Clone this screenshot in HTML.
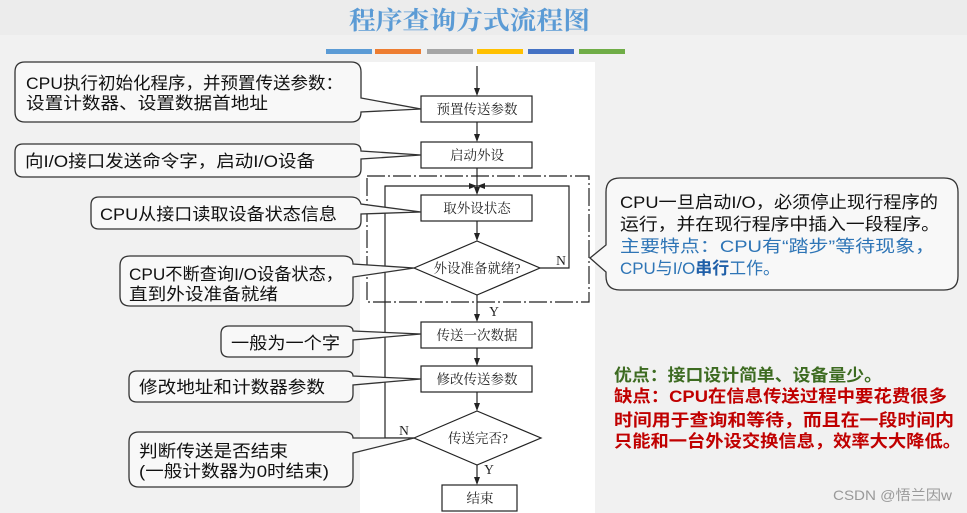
<!DOCTYPE html>
<html><head><meta charset="utf-8"><style>
html,body{margin:0;padding:0;background:#f1f1f1;}
svg{display:block;}
.cj{font-family:"Liberation Sans","Noto Sans CJK SC",sans-serif;}
.sf{font-family:"Liberation Serif","Noto Serif CJK SC",serif;}
</style></head><body>
<svg width="967" height="513" viewBox="0 0 967 513" xmlns="http://www.w3.org/2000/svg">
<rect width="967" height="513" fill="#f1f1f1"/>
<rect width="967" height="35" fill="#ececec"/>
<!-- title -->
<text class="sf" x="349" y="29" font-size="25" font-weight="bold" fill="#5b9bd5" textLength="241" lengthAdjust="spacingAndGlyphs">程序查询方式流程图</text>
<g>
<rect x="326" y="49" width="46" height="5" fill="#5b9bd5"/>
<rect x="375" y="49" width="46" height="5" fill="#ed7d31"/>
<rect x="427" y="49" width="46" height="5" fill="#a5a5a5"/>
<rect x="477" y="49" width="46" height="5" fill="#ffc000"/>
<rect x="528" y="49" width="46" height="5" fill="#4472c4"/>
<rect x="579" y="49" width="46" height="5" fill="#70ad47"/>
</g>
<!-- white panel -->
<rect x="360" y="62" width="235" height="451" fill="#ffffff"/>

<!-- flowchart -->
<g stroke="#222" stroke-width="1.2" fill="none">
<line x1="477" y1="66" x2="477" y2="94"/>
<line x1="477" y1="122" x2="477" y2="140"/>
<line x1="477" y1="168" x2="477" y2="193"/>
<line x1="477" y1="221" x2="477" y2="239"/>
<line x1="477" y1="293" x2="477" y2="320"/>
<line x1="477" y1="348" x2="477" y2="364"/>
<line x1="477" y1="392" x2="477" y2="409"/>
<line x1="477" y1="465" x2="477" y2="483"/>
<rect x="421" y="96" width="111" height="26" fill="#fff"/>
<rect x="421" y="142" width="111" height="26" fill="#fff"/>
<rect x="421" y="195" width="111" height="26" fill="#fff"/>
<polygon points="414,268 477,241 540,268 477,295" fill="#fff"/>
<rect x="421" y="322" width="111" height="26" fill="#fff"/>
<rect x="421" y="366" width="111" height="26" fill="#fff"/>
<polygon points="414,438 477,411 541,438 477,465" fill="#fff"/>
<rect x="442" y="485" width="75" height="26" fill="#fff"/>
<!-- loops -->
<polyline points="540,268 569,268 569,186 477,186"/>
<polyline points="414,438 385,438 385,186 477,186"/>
<rect x="367" y="176" width="222" height="126" stroke-dasharray="18,3,2,3"/>
</g>
<g fill="#222">
<polygon points="477,96 474,88 480,88"/>
<polygon points="477,142 474,134 480,134"/>
<polygon points="477,195 474,187 480,187"/>
<polygon points="477,241 474,233 480,233"/>
<polygon points="477,322 474,314 480,314"/>
<polygon points="477,366 474,358 480,358"/>
<polygon points="477,411 474,403 480,403"/>
<polygon points="477,485 474,477 480,477"/>
<polygon points="477,186 485,183 485,189"/>
<polygon points="477,186 469,183 469,189"/>
</g>
<g class="sf" font-size="13.5" fill="#222" text-anchor="middle">
<text x="477" y="114">预置传送参数</text>
<text x="477" y="160">启动外设</text>
<text x="477" y="213">取外设状态</text>
<text x="477" y="273">外设准备就绪?</text>
<text x="477" y="340">传送一次数据</text>
<text x="477" y="384">修改传送参数</text>
<text x="478" y="443">传送完否?</text>
<text x="480" y="503">结束</text>
<text x="561" y="265">N</text>
<text x="494" y="316">Y</text>
<text x="404" y="435">N</text>
<text x="489" y="474">Y</text>
</g>

<!-- callouts -->
<g fill="#f8f8f8" stroke="#333" stroke-width="1.3">
<path d="M25,62 H351 Q361,62 361,72 V98 L421,109 L361,112 V112 Q361,122 351,122 H25 Q15,122 15,112 V72 Q15,62 25,62 Z"/>
<path d="M23,144 H353 Q361,144 361,151 L421,155 L361,159 V169 Q361,177 353,177 H23 Q15,177 15,169 V152 Q15,144 23,144 Z"/>
<path d="M99,197 H351 Q359,197 361,204 L421,212 L361,214 V221 Q361,229 353,229 H99 Q91,229 91,221 V205 Q91,197 99,197 Z"/>
<path d="M130,256 H343 Q353,256 353,264 L414,268 L353,277 V296 Q353,306 343,306 H130 Q120,306 120,296 V266 Q120,256 130,256 Z"/>
<path d="M229,326 H345 Q353,326 353,331 L421,334 L353,340 V349 Q353,357 345,357 H229 Q221,357 221,349 V334 Q221,326 229,326 Z"/>
<path d="M137,371 H345 Q353,371 353,376 L421,379 L353,385 V394 Q353,402 345,402 H137 Q129,402 129,394 V379 Q129,371 137,371 Z"/>
<path d="M139,432 H343 Q353,432 353,438 L414,438 L353,453 V477 Q353,487 343,487 H139 Q129,487 129,477 V442 Q129,432 139,432 Z"/>
<path d="M620,178 H944 Q958,178 958,192 V276 Q958,290 944,290 H620 Q606,290 606,276 V272 L590,258 L606,245 V192 Q606,178 620,178 Z"/>
</g>
<g class="cj" font-size="17" fill="#111">
<text x="26" y="89" textLength="317" lengthAdjust="spacingAndGlyphs">CPU执行初始化程序，并预置传送参数：</text>
<text x="26" y="109" textLength="242" lengthAdjust="spacingAndGlyphs">设置计数器、设置数据首地址</text>
<text x="25" y="167" textLength="290" lengthAdjust="spacingAndGlyphs">向I/O接口发送命令字，启动I/O设备</text>
<text x="100" y="220" textLength="237" lengthAdjust="spacingAndGlyphs">CPU从接口读取设备状态信息</text>
<text x="129" y="280" textLength="214" lengthAdjust="spacingAndGlyphs">CPU不断查询I/O设备状态，</text>
<text x="129" y="300" textLength="149" lengthAdjust="spacingAndGlyphs">直到外设准备就绪</text>
<text x="231" y="349" textLength="109" lengthAdjust="spacingAndGlyphs">一般为一个字</text>
<text x="139" y="393" textLength="186" lengthAdjust="spacingAndGlyphs">修改地址和计数器参数</text>
<text x="139" y="457" textLength="149" lengthAdjust="spacingAndGlyphs">判断传送是否结束</text>
<text x="139" y="477" textLength="190" lengthAdjust="spacingAndGlyphs">(一般计数器为0时结束)</text>
<text x="620" y="208" textLength="318" lengthAdjust="spacingAndGlyphs">CPU一旦启动I/O，必须停止现行程序的</text>
<text x="620" y="230" textLength="320" lengthAdjust="spacingAndGlyphs">运行，并在现行程序中插入一段程序。</text>
<text x="620" y="252" fill="#2e75b6" textLength="315" lengthAdjust="spacingAndGlyphs">主要特点：CPU有“踏步”等待现象，</text>
<text x="620" y="274" fill="#2e75b6" textLength="160" lengthAdjust="spacingAndGlyphs">CPU与I/O<tspan font-weight="bold" fill="#1f5fa8">串行</tspan>工作。</text>
</g>
<g class="cj" font-size="17" font-weight="bold">
<text x="614" y="381" fill="#3d6b21" textLength="268" lengthAdjust="spacingAndGlyphs">优点：接口设计简单、设备量少。</text>
<text x="614" y="402" fill="#c00000" textLength="333" lengthAdjust="spacingAndGlyphs">缺点：CPU在信息传送过程中要花费很多</text>
<text x="614" y="426" fill="#c00000" textLength="340" lengthAdjust="spacingAndGlyphs">时间用于查询和等待，而且在一段时间内</text>
<text x="614" y="447" fill="#c00000" textLength="347" lengthAdjust="spacingAndGlyphs">只能和一台外设交换信息，效率大大降低。</text>
</g>
<text class="cj" x="833" y="500" font-size="14" fill="#999" textLength="119" lengthAdjust="spacingAndGlyphs">CSDN @悟兰因w</text>
</svg>
</body></html>
